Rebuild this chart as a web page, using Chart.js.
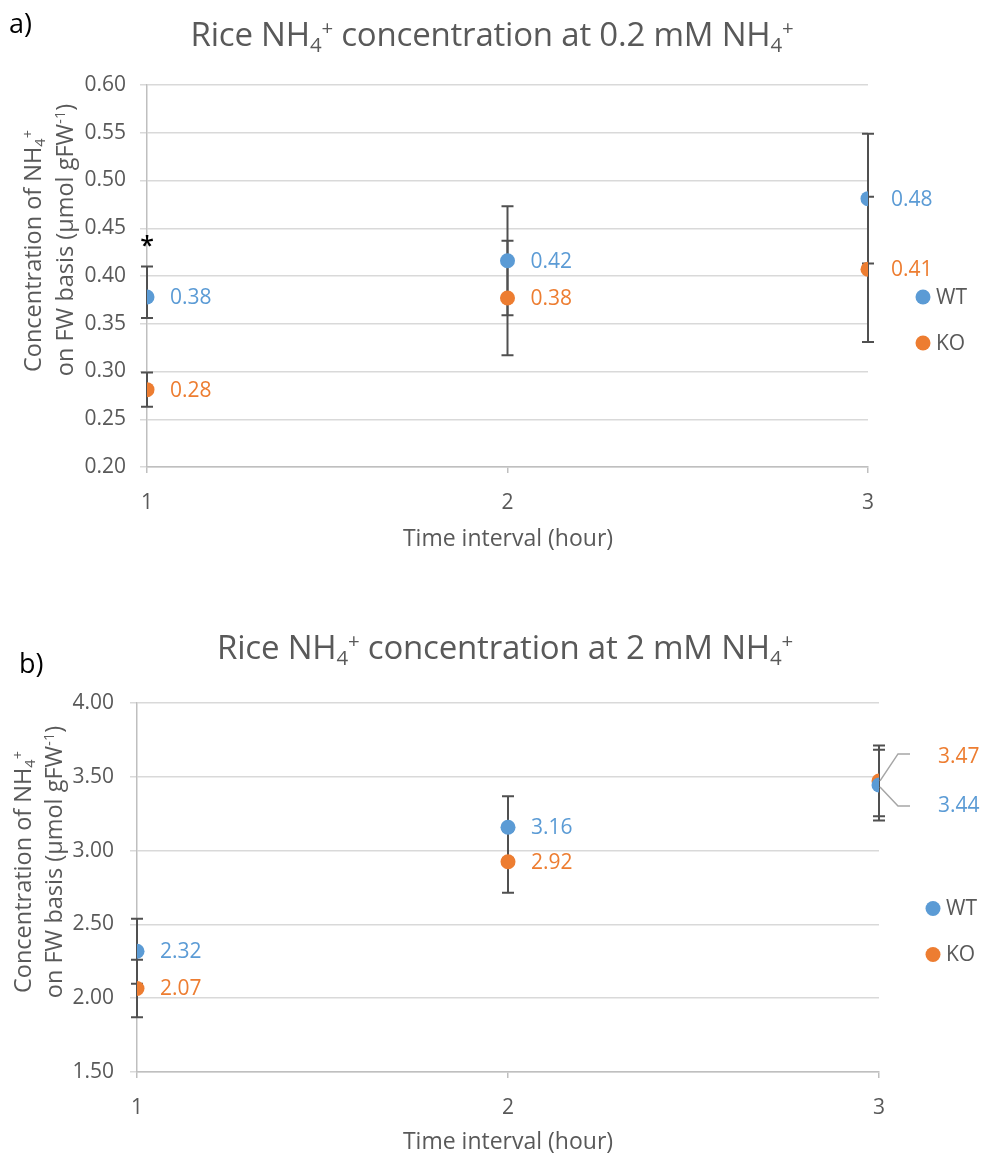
<!DOCTYPE html>
<html>
<head>
<meta charset="utf-8">
<script src="https://cdn.jsdelivr.net/npm/chart.js@4.4.1/dist/chart.umd.min.js"></script>
<style>
  html, body { margin: 0; padding: 0; background: #ffffff; }
  body { width: 984px; height: 1156px; position: relative; overflow: hidden; font-family: 'Open Sans', sans-serif; }
  canvas { position: absolute; left: 0; }
  .t { position: absolute; white-space: nowrap; color: #595959; line-height: 1; transform: translate(-50%, -50%); z-index: 2; }
  .t sub, .t sup { font-size: 0.62em; line-height: 0; position: relative; vertical-align: baseline; }
  .t sub { top: 0.28em; }
  .t sup { top: -0.55em; }
  .title { font-size: 33px; letter-spacing: -0.2px; }
  .xt { font-size: 23px; }
  .yt { font-size: 23.5px; transform: translate(-50%, -50%) rotate(-90deg); }
  .panel { position: absolute; color: #000; font-size: 27px; line-height: 1; z-index: 2; }
</style>
</head>
<body>
<div class="panel" style="left:9px;top:9px;">a)</div>
<div class="t title" style="left:492px;top:33px;">Rice NH<sub>4</sub><sup>+</sup> concentration at 0.2 mM NH<sub>4</sub><sup>+</sup></div>
<div class="t yt" style="left:33px;top:251px;">Concentration of NH<sub>4</sub><sup>+</sup></div>
<div class="t yt" style="left:65px;top:240px;">on FW basis (µmol gFW<sup>-1</sup>)</div>
<div class="t xt" style="left:508px;top:537px;">Time interval (hour)</div>
<canvas id="chartA" width="984" height="560" style="top:0px;"></canvas>

<div class="panel" style="left:19px;top:649px;">b)</div>
<div class="t title" style="left:505px;top:646px;">Rice NH<sub>4</sub><sup>+</sup> concentration at 2 mM NH<sub>4</sub><sup>+</sup></div>
<div class="t yt" style="left:23px;top:872px;">Concentration of NH<sub>4</sub><sup>+</sup></div>
<div class="t yt" style="left:54px;top:862px;">on FW basis (µmol gFW<sup>-1</sup>)</div>
<div class="t xt" style="left:508px;top:1140px;">Time interval (hour)</div>
<canvas id="chartB" width="984" height="576" style="top:580px;"></canvas>

<script>
// ---------------- data ----------------
const timeIntervals = [1, 2, 3];
const seriesNames = ['WT', 'KO'];

// a) 0.2 mM NH4+
const wtA = [0.378, 0.416, 0.481];
const wtAErrPlus = [0.032, 0.057, 0.068];
const wtAErrMinus = [0.022, 0.057, 0.068];
const koA = [0.281, 0.377, 0.407];
const koAErrPlus = [0.018, 0.060, 0.076];
const koAErrMinus = [0.018, 0.060, 0.076];
const signifA = ['*', '', ''];
const yTicksA = [0.20, 0.25, 0.30, 0.35, 0.40, 0.45, 0.50, 0.55, 0.60];

// b) 2 mM NH4+
const wtB = [2.318, 3.158, 3.444];
const wtBErrPlus = [0.220, 0.210, 0.240];
const wtBErrMinus = [0.220, 0.210, 0.240];
const koB = [2.066, 2.924, 3.472];
const koBErrPlus = [0.195, 0.210, 0.240];
const koBErrMinus = [0.195, 0.210, 0.240];
const signifB = ['', '', ''];
const yTicksB = [1.50, 2.00, 2.50, 3.00, 3.50, 4.00];

// ---------------- style ----------------
const COL_WT = '#5B9BD5';
const COL_KO = '#ED7D31';
const FONT = "'Open Sans', sans-serif";
const TEXT = '#595959';

Chart.defaults.font.family = FONT;
Chart.defaults.color = TEXT;

function pts(vals) { return timeIntervals.map((t, i) => ({ x: t, y: vals[i] })); }

const errorBarPlugin = {
  id: 'errorBars',
  beforeDatasetsDraw(chart) {
    const ctx = chart.ctx, xs = chart.scales.x, ys = chart.scales.y;
    ctx.save();
    ctx.strokeStyle = '#505050';
    ctx.lineWidth = 2;
    chart.data.datasets.forEach(ds => {
      ds.data.forEach((p, i) => {
        const x = xs.getPixelForValue(p.x);
        const yt = ys.getPixelForValue(p.y + ds.errPlus[i]);
        const yb = ys.getPixelForValue(p.y - ds.errMinus[i]);
        ctx.beginPath();
        ctx.moveTo(x, yt); ctx.lineTo(x, yb);
        ctx.moveTo(x - 6, yt); ctx.lineTo(x + 6, yt);
        ctx.moveTo(x - 6, yb); ctx.lineTo(x + 6, yb);
        ctx.stroke();
      });
    });
    ctx.restore();
  }
};

const labelPlugin = {
  id: 'pointLabels',
  afterDatasetsDraw(chart, args, opts) {
    const ctx = chart.ctx, xs = chart.scales.x, ys = chart.scales.y;
    ctx.save();
    ctx.font = '21px ' + FONT;
    ctx.textBaseline = 'middle';
    ctx.textAlign = 'left';
    chart.data.datasets.forEach((ds, di) => {
      ds.data.forEach((p, i) => {
        const x = xs.getPixelForValue(p.x), y = ys.getPixelForValue(p.y);
        const ov = (opts.overrides || {})[di + '-' + i];
        let dx = 23, dy = 0;
        if (ov) {
          dx = ov.dx; dy = ov.dy;
          ctx.strokeStyle = '#A6A6A6';
          ctx.lineWidth = 1.5;
          ctx.beginPath();
          ctx.moveTo(x + 1, y + ov.leader[0]);
          ctx.lineTo(x + 19, y + dy + ov.leader[1]);
          ctx.lineTo(x + 31, y + dy + ov.leader[1]);
          ctx.stroke();
        }
        ctx.fillStyle = ds.backgroundColor;
        ctx.fillText(p.y.toFixed(2), x + dx, y + dy + 1);
      });
    });
    // significance marks
    const ds0 = chart.data.datasets[0];
    ctx.fillStyle = '#000';
    ctx.font = '600 25px ' + FONT;
    ctx.textAlign = 'center';
    ctx.textBaseline = 'alphabetic';
    (opts.signif || []).forEach((s, i) => {
      if (!s) return;
      const p = ds0.data[i];
      const x = xs.getPixelForValue(p.x);
      const yt = ys.getPixelForValue(p.y + ds0.errPlus[i]);
      ctx.fillText(s, x, yt - 12);
    });
    ctx.restore();
  },
  afterDraw(chart) {
    const ctx = chart.ctx, a = chart.chartArea;
    const mid = (a.top + a.bottom) / 2;
    const lx = a.right + (chart.canvas.id === 'chartA' ? 55 : 54);
    ctx.save();
    ctx.font = '21px ' + FONT;
    ctx.textBaseline = 'middle';
    ctx.textAlign = 'left';
    chart.data.datasets.forEach((ds, di) => {
      const y = mid + 21 + di * 46;
      ctx.fillStyle = ds.backgroundColor;
      ctx.beginPath(); ctx.arc(lx, y, 7.5, 0, Math.PI * 2); ctx.fill();
      ctx.fillStyle = TEXT;
      ctx.fillText(ds.label, lx + 13, y + 1);
    });
    ctx.restore();
  }
};

function makeChart(id, wt, wtP, wtM, ko, koP, koM, yTicks, signif, geom, overrides) {
  const yMin = yTicks[0], yMax = yTicks[yTicks.length - 1];
  return new Chart(document.getElementById(id), {
    type: 'scatter',
    data: {
      datasets: [
        { label: seriesNames[0], data: pts(wt), errPlus: wtP, errMinus: wtM,
          backgroundColor: COL_WT, borderColor: COL_WT, pointRadius: 7.5, pointBorderWidth: 0, pointHoverRadius: 7.5 },
        { label: seriesNames[1], data: pts(ko), errPlus: koP, errMinus: koM,
          backgroundColor: COL_KO, borderColor: COL_KO, pointRadius: 7.5, pointBorderWidth: 0, pointHoverRadius: 7.5 }
      ]
    },
    options: {
      responsive: false,
      animation: false,
      events: [],
      layout: { padding: { top: geom.top, right: geom.right, left: 0, bottom: 0 } },
      plugins: {
        legend: { display: false },
        tooltip: { enabled: false },
        pointLabels: { signif: signif, overrides: overrides }
      },
      scales: {
        x: {
          type: 'linear', min: timeIntervals[0], max: timeIntervals[timeIntervals.length - 1],
          afterBuildTicks: s => { s.ticks = timeIntervals.map(v => ({ value: v })); },
          ticks: { font: { size: 21 }, color: TEXT, padding: 17, callback: v => String(v), maxRotation: 0 },
          grid: { drawOnChartArea: false, drawTicks: true, tickLength: 6, color: '#BFBFBF', lineWidth: 1.5 },
          border: { display: true, color: '#BFBFBF', width: 1.5 },
          afterFit: s => { s.height = geom.xh; }
        },
        y: {
          min: yMin, max: yMax,
          afterBuildTicks: s => { s.ticks = yTicks.map(v => ({ value: v })); },
          ticks: { font: { size: 21 }, color: TEXT, padding: geom.ypad, callback: v => Number(v).toFixed(2) },
          grid: { color: '#D9D9D9', lineWidth: 1.5, tickLength: 7, tickColor: '#D9D9D9' },
          border: { display: true, color: '#BFBFBF', width: 1.5 },
          afterFit: s => { s.width = geom.yw; }
        }
      }
    },
    plugins: [errorBarPlugin, labelPlugin]
  });
}

makeChart('chartA', wtA, wtAErrPlus, wtAErrMinus, koA, koAErrPlus, koAErrMinus, yTicksA, signifA,
  { top: 85, right: 116, xh: 93, yw: 147, ypad: 14 }, {});
makeChart('chartB', wtB, wtBErrPlus, wtBErrMinus, koB, koBErrPlus, koBErrMinus, yTicksB, signifB,
  { top: 123, right: 105, xh: 84, yw: 137, ypad: 16 },
  { '0-2': { dx: 59, dy: 20, leader: [2, 1] }, '1-2': { dx: 59, dy: -25, leader: [0, -2] } });
</script>
</body>
</html>
